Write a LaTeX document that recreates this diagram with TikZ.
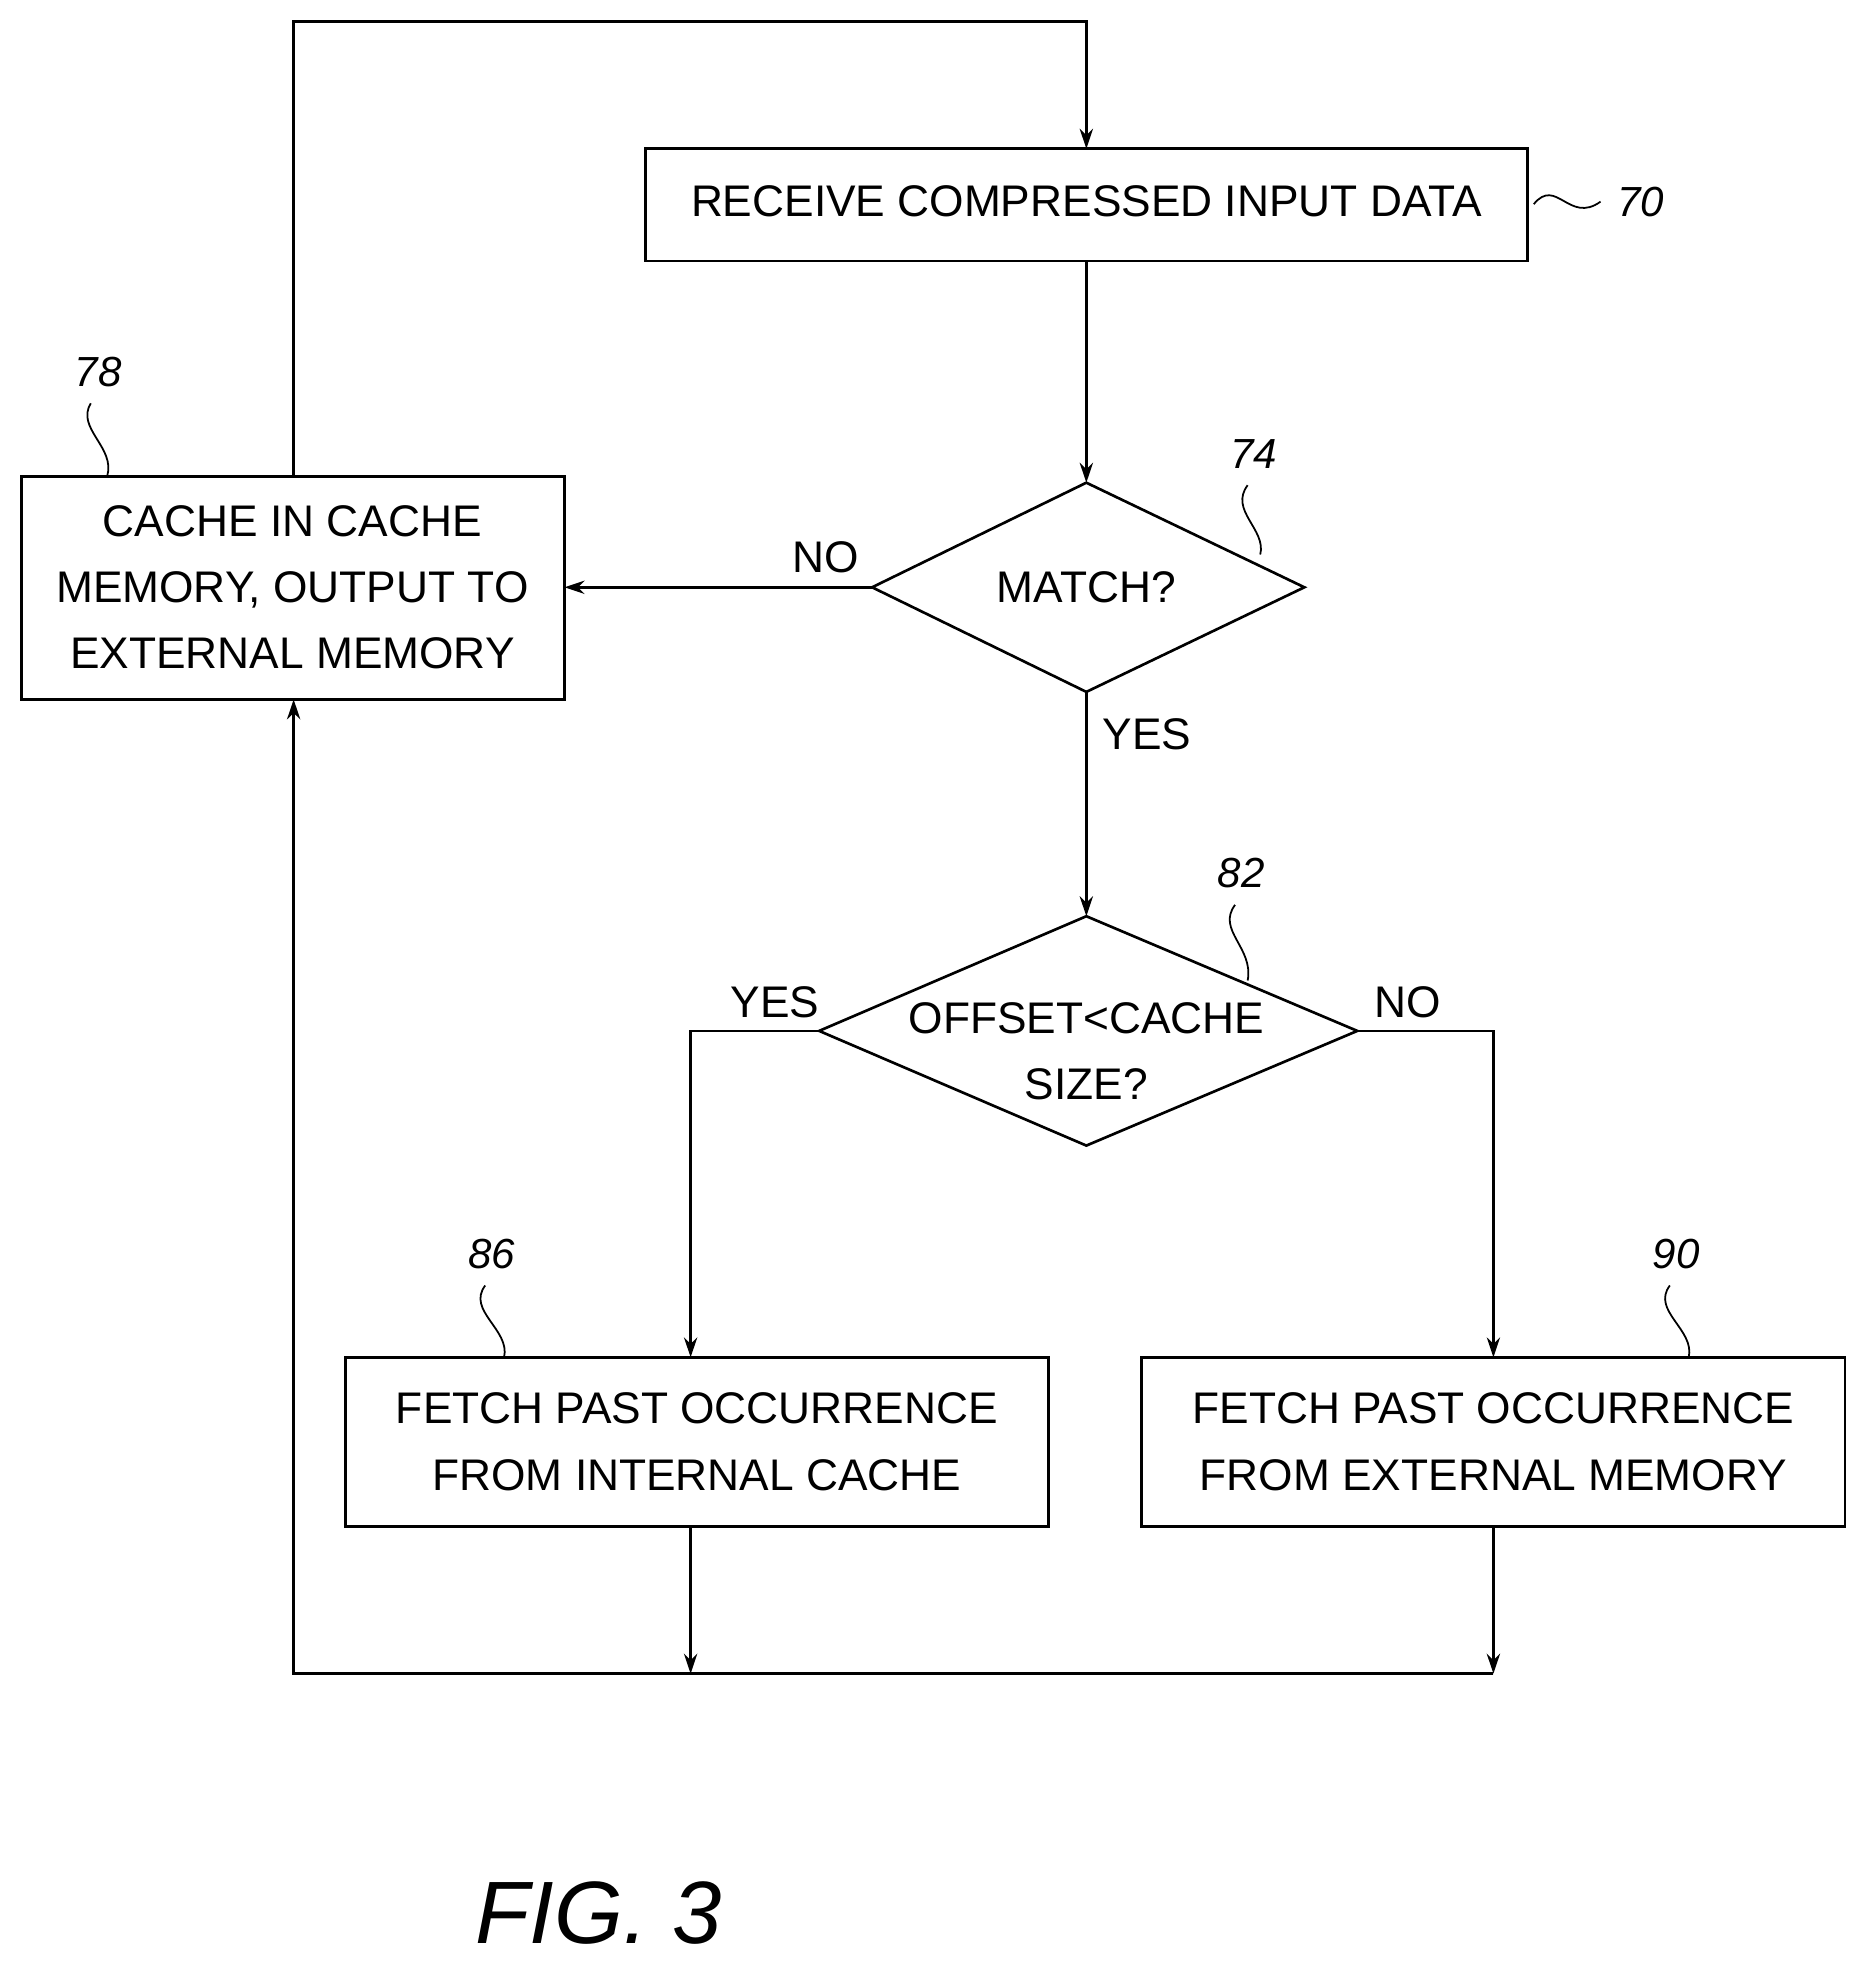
\documentclass[tikz,border=0pt]{standalone}
\usepackage{fontspec}
\setmainfont{Liberation Sans}
\usetikzlibrary{arrows.meta}
\begin{document}
\begin{tikzpicture}[x=0.02cm,y=-0.02cm,
  every node/.style={font=\fontsize{20}{30}\selectfont},
  box/.style={draw,line width=1.2pt,inner sep=0},
  ln/.style={line width=1.2pt},
  arr/.style={ln,-{Stealth[length=9pt,width=6pt]}},
  lab/.style={font=\fontsize{19}{22}\selectfont\itshape},
  sq/.style={line width=0.8pt}]
\useasboundingbox (0,0) rectangle (1474,1560);
% boxes
\draw[box] (512,118) rectangle (1212,207);
\node (t70) at (862,160) {RECEIVE COMPRESSED INPUT DATA};
\coordinate (b70t) at (862,118); \coordinate (b70b) at (862,207);
\draw[box] (17,378) rectangle (448,555);
\node[align=center] (t78) at (232,466) {CACHE IN CACHE\\MEMORY, OUTPUT TO\\EXTERNAL MEMORY};
\coordinate (b78t) at (233,378); \coordinate (b78b) at (233,555); \coordinate (b78r) at (448,466);
\draw[box] (274,1077) rectangle (832,1211);
\node[align=center] (t86) at (553,1144) {FETCH PAST OCCURRENCE\\FROM INTERNAL CACHE};
\coordinate (b86t) at (548,1077); \coordinate (b86b) at (548,1211);
\draw[box] (906,1077) rectangle (1464,1211);
\node[align=center] (t90) at (1185,1144) {FETCH PAST OCCURRENCE\\FROM EXTERNAL MEMORY};
\coordinate (b90t) at (1185,1077); \coordinate (b90b) at (1185,1211);
% diamonds
\coordinate (d74t) at (862,383); \coordinate (d74b) at (862,549);
\coordinate (d74l) at (692,466); \coordinate (d74r) at (1035,466);
\draw[ln] (d74t)--(d74r)--(d74b)--(d74l)--cycle;
\node (t74) at (862,466) {MATCH?};
\coordinate (d82t) at (862,727); \coordinate (d82b) at (862,909);
\coordinate (d82l) at (650,818); \coordinate (d82r) at (1077,818);
\draw[ln] (d82t)--(d82r)--(d82b)--(d82l)--cycle;
\node[align=center] (t82) at (862,834) {OFFSET<CACHE\\SIZE?};
% connectors
\draw[arr] (b70b)--(d74t);
\draw[arr] (d74l)--(b78r);
\draw[arr] (d74b)--(d82t);
\draw[arr] (d82l)-|(b86t);
\draw[arr] (d82r)-|(b90t);
\coordinate (j1) at (548,1328); \coordinate (j2) at (1185,1328);
\draw[arr] (b86b)--(j1);
\draw[arr] (b90b)--(j2);
\draw[arr] (j2)--(233,1328)--(b78b);
\draw[arr] (b78t)--(233,17)--(862,17)--(b70t);
% edge labels
\node (n1) at (655,442) {NO};
\node (y1) at (910,583) {YES};
\node (y2) at (615,795) {YES};
\node (n2) at (1117,795) {NO};
% reference labels
\node[lab] (l70) at (1302,160) {70};
\draw[sq] (1217,162) .. controls (1235,140) and (1245,178) .. (1270,160);
\node[lab] (l74) at (995,360) {74};
\draw[sq] (990,385) .. controls (975,405) and (1005,420) .. (1000,440);
\node[lab] (l78) at (78,295) {78};
\draw[sq] (72,320) .. controls (60,340) and (92,355) .. (85,378);
\node[lab] (l82) at (985,693) {82};
\draw[sq] (980,718) .. controls (965,738) and (995,752) .. (990,778);
\node[lab] (l86) at (390,995) {86};
\draw[sq] (385,1020) .. controls (370,1040) and (405,1055) .. (400,1077);
\node[lab] (l90) at (1330,995) {90};
\draw[sq] (1325,1020) .. controls (1310,1040) and (1345,1055) .. (1340,1077);
\node[font=\fontsize{40}{44}\selectfont\itshape] (fig) at (475,1518) {FIG. 3};
\end{tikzpicture}
\end{document}
